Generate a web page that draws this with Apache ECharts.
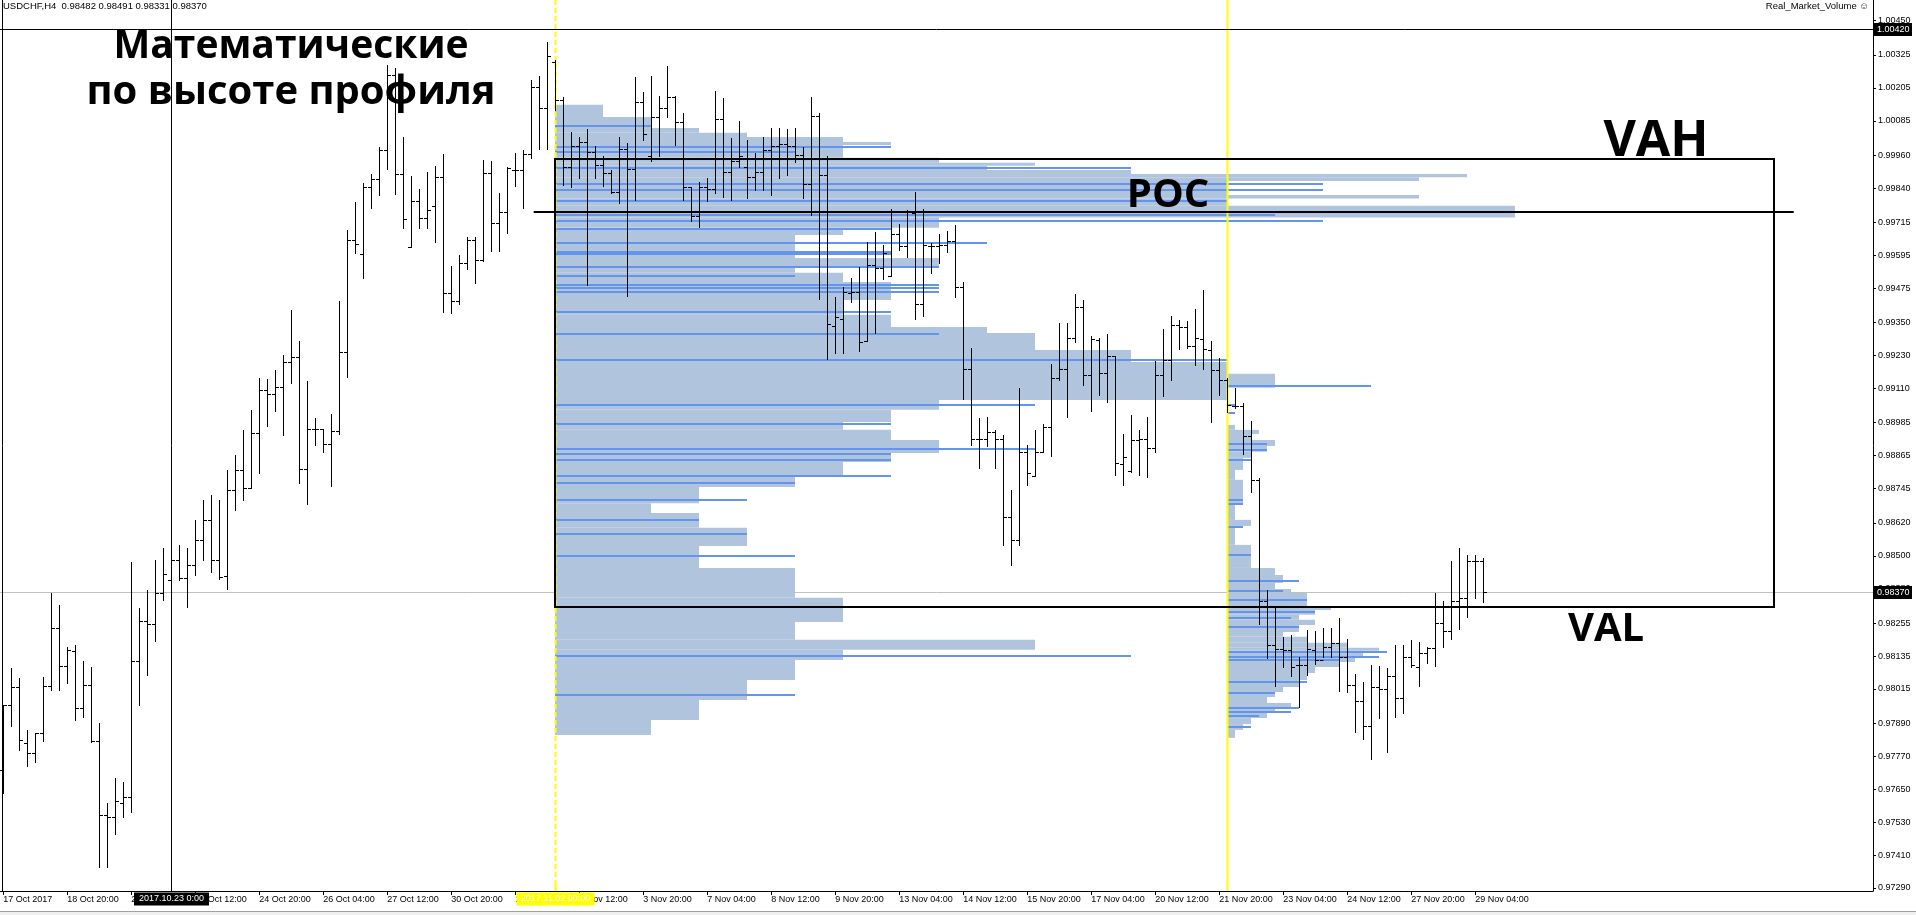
<!DOCTYPE html>
<html><head><meta charset="utf-8">
<script src="https://cdn.jsdelivr.net/npm/echarts@6/dist/echarts.min.js"></script>
<style>html,body{margin:0;padding:0;background:#fff;overflow:hidden}#c{width:1916px;height:915px}</style>
</head><body><div id="c"></div>
<script>
// ---------- axis ticks ----------
const xTickBars = [0,8,16,24,32,40,48,56,64,72,80,88,96,104,112,120,128,136,144,152,160,168,176,184];
const xTickLabels = ['17 Oct 2017','18 Oct 20:00','20 Oct 04:00','23 Oct 12:00','24 Oct 20:00','26 Oct 04:00','27 Oct 12:00','30 Oct 20:00','1 Nov 04:00','2 Nov 12:00','3 Nov 20:00','7 Nov 04:00','8 Nov 12:00','9 Nov 20:00','13 Nov 04:00','14 Nov 12:00','15 Nov 20:00','17 Nov 04:00','20 Nov 12:00','21 Nov 20:00','23 Nov 04:00','24 Nov 12:00','27 Nov 20:00','29 Nov 04:00'];
const yTickValues = [1.00450,1.00325,1.00205,1.00085,0.99960,0.99840,0.99715,0.99595,0.99475,0.99350,0.99230,0.99110,0.98985,0.98865,0.98745,0.98620,0.98500,0.98380,0.98255,0.98135,0.98015,0.97890,0.97770,0.97650,0.97530,0.97410,0.97290];

// ---------- H4 bars (index 0 = 17 Oct 12:00) ----------
const barOpen = [0.97720,0.97957,0.98023,0.97819,0.97781,0.97854,0.98027,0.98236,0.98100,0.98153,
0.97945,0.98029,0.97827,0.97556,0.97550,0.97599,0.97623,0.98117,0.98263,0.98251,
0.98363,0.98412,0.98485,0.98418,0.98467,0.98558,0.98630,0.98485,0.98427,0.98740,
0.98813,0.98747,0.98947,0.99103,0.99090,0.99114,0.99206,0.99226,0.98815,0.98961,
0.98961,0.98906,0.98955,0.99242,0.99651,0.99600,0.99845,0.99872,0.99979,1.00252,
0.99891,0.99625,0.99794,0.99731,0.99773,0.99881,0.99457,0.99430,0.99567,0.99651,
0.99578,0.99894,0.99712,0.99752,0.99906,0.99906,0.99964,1.00209,1.00131,1.00298,
1.00161,0.99918,0.99994,1.00007,0.99971,0.99924,0.99894,0.99825,0.99983,0.99909,
1.00154,0.99955,1.00100,1.00131,1.00171,1.00080,0.99843,0.99739,0.99845,0.99836,
1.00091,0.99898,0.99940,0.99918,0.99881,0.99899,0.99979,0.99994,1.00001,0.99994,
0.99961,0.99855,1.00103,0.99888,0.99339,0.99363,0.99456,0.99462,0.99282,0.99560,
0.99548,0.99519,0.99672,0.99629,0.99748,0.99418,0.99627,0.99627,0.99633,0.99648,
0.99479,0.99180,0.98925,0.98925,0.98953,0.98925,0.98641,0.98558,0.98879,0.98792,
0.98877,0.98971,0.99147,0.99181,0.99293,0.99407,0.99159,0.99287,0.99166,0.99229,
0.98836,0.98810,0.98923,0.98926,0.98893,0.99159,0.99214,0.99341,0.99333,0.99263,
0.99289,0.99250,0.99177,0.99141,0.99046,0.99046,0.98937,0.98778,0.98336,0.98176,
0.98161,0.98158,0.98101,0.98101,0.98156,0.98121,0.98168,0.98184,0.98133,0.98030,
0.97971,0.97881,0.98023,0.98014,0.98062,0.97981,0.98133,0.98096,0.98145,0.98163,
0.98257,0.98226,0.98336,0.98346,0.98481,0.98482];
const barHigh = [0.97957,0.98090,0.98054,0.97866,0.97856,0.98057,0.98363,0.98321,0.98169,0.98175,
0.98118,0.98096,0.97890,0.97599,0.97690,0.97675,0.98477,0.98309,0.98375,0.98485,
0.98528,0.98558,0.98540,0.98528,0.98630,0.98704,0.98722,0.98704,0.98813,0.98868,
0.98959,0.99032,0.99148,0.99144,0.99177,0.99232,0.99396,0.99283,0.99136,0.99004,
0.98961,0.99017,0.99428,0.99688,0.99789,0.99860,0.99891,0.99988,1.00288,1.00277,
1.00025,0.99884,0.99837,0.99898,0.99921,0.99965,0.99557,0.99597,0.99662,0.99662,
0.99942,0.99939,0.99821,0.99918,0.99967,0.99979,1.00234,1.00248,1.00371,1.00307,
1.00173,1.00043,1.00027,1.00055,0.99994,0.99957,0.99906,1.00025,1.00003,1.00244,
1.00189,1.00249,1.00176,1.00285,1.00176,1.00113,0.99845,0.99861,0.99876,1.00194,
1.00167,1.00024,1.00084,1.00015,0.99969,1.00027,1.00060,1.00060,1.00055,1.00060,
0.99991,1.00173,1.00115,0.99955,0.99442,0.99479,0.99511,0.99553,0.99642,0.99681,
0.99633,0.99763,0.99709,0.99760,0.99826,0.99763,0.99641,0.99673,0.99684,0.99706,
0.99499,0.99259,0.99002,0.99006,0.98957,0.98940,0.98741,0.99111,0.98905,0.98959,
0.98980,0.99199,0.99350,0.99350,0.99455,0.99433,0.99302,0.99293,0.99309,0.99229,
0.98945,0.99014,0.98959,0.99007,0.99211,0.99326,0.99374,0.99359,0.99356,0.99399,
0.99469,0.99284,0.99221,0.99148,0.99111,0.99057,0.98990,0.98784,0.98375,0.98310,
0.98203,0.98212,0.98133,0.98230,0.98228,0.98236,0.98236,0.98275,0.98196,0.98070,
0.98040,0.98104,0.98098,0.98093,0.98175,0.98175,0.98192,0.98186,0.98168,0.98363,
0.98335,0.98481,0.98528,0.98503,0.98503,0.98491];
const barLow = [0.97636,0.97881,0.97793,0.97735,0.97748,0.97827,0.98011,0.98011,0.98038,0.97902,
0.97914,0.97823,0.97368,0.97368,0.97487,0.97547,0.97568,0.97957,0.98066,0.98190,
0.98339,0.98339,0.98412,0.98313,0.98430,0.98485,0.98441,0.98415,0.98379,0.98668,
0.98704,0.98747,0.98801,0.98972,0.99029,0.98941,0.99131,0.98766,0.98688,0.98903,
0.98879,0.98756,0.98943,0.99153,0.99605,0.99514,0.99769,0.99813,0.99911,0.99818,
0.99696,0.99625,0.99696,0.99696,0.99643,0.99390,0.99384,0.99417,0.99546,0.99494,
0.99575,0.99612,0.99612,0.99676,0.99849,0.99769,0.99949,0.99983,0.99983,1.00125,
0.99851,0.99845,0.99876,0.99487,0.99876,0.99849,0.99821,0.99785,0.99448,0.99797,
1.00016,0.99937,0.99958,1.00098,0.99995,0.99797,0.99721,0.99697,0.99793,0.99823,
0.99808,0.99797,0.99916,0.99803,0.99833,0.99833,0.99815,0.99876,0.99888,0.99936,
0.99803,0.99742,0.99435,0.99216,0.99238,0.99238,0.99424,0.99247,0.99282,0.99313,
0.99508,0.99519,0.99614,0.99590,0.99362,0.99375,0.99532,0.99568,0.99608,0.99444,
0.99070,0.98904,0.98820,0.98899,0.98820,0.98540,0.98467,0.98540,0.98759,0.98790,
0.98877,0.98865,0.99141,0.99007,0.99278,0.99123,0.99026,0.99087,0.99059,0.98794,
0.98757,0.98807,0.98794,0.98788,0.98880,0.99081,0.99139,0.99253,0.99259,0.99194,
0.99181,0.98988,0.99087,0.99024,0.99039,0.98872,0.98732,0.98250,0.98128,0.98025,
0.98095,0.98062,0.97951,0.98066,0.98105,0.98133,0.98131,0.98009,0.98003,0.97859,
0.97833,0.97760,0.97909,0.97785,0.97912,0.97929,0.98095,0.98026,0.98108,0.98100,
0.98167,0.98197,0.98233,0.98279,0.98348,0.98331];
const barClose = [0.97957,0.98023,0.97829,0.97783,0.97854,0.98027,0.98236,0.98100,0.98157,0.97945,
0.98029,0.97827,0.97556,0.97550,0.97607,0.97623,0.98117,0.98263,0.98251,0.98363,
0.98434,0.98485,0.98418,0.98467,0.98558,0.98630,0.98485,0.98424,0.98740,0.98813,
0.98747,0.98947,0.99103,0.99090,0.99114,0.99206,0.99226,0.98815,0.98961,0.98961,
0.98906,0.98955,0.99242,0.99651,0.99637,0.99845,0.99872,0.99979,1.00252,0.99891,
0.99727,0.99794,0.99731,0.99760,0.99881,0.99457,0.99430,0.99567,0.99651,0.99578,
0.99894,0.99712,0.99752,0.99914,0.99906,0.99964,1.00209,1.00131,1.00321,1.00161,
0.99918,0.99994,1.00007,0.99971,0.99924,0.99894,0.99825,0.99983,0.99909,1.00154,
1.00037,1.00100,1.00131,1.00171,1.00080,0.99843,0.99739,0.99845,0.99836,1.00091,
0.99898,0.99940,0.99955,0.99881,0.99899,0.99979,0.99994,1.00001,0.99994,0.99961,
0.99855,1.00103,0.99888,0.99344,0.99371,0.99462,0.99462,0.99278,0.99560,0.99548,
0.99603,0.99672,0.99629,0.99753,0.99418,0.99633,0.99627,0.99633,0.99648,0.99479,
0.99180,0.98925,0.98925,0.98953,0.98925,0.98641,0.98558,0.98879,0.98802,0.98877,
0.98971,0.99147,0.99181,0.99293,0.99407,0.99159,0.99290,0.99166,0.99229,0.98839,
0.98861,0.98923,0.98926,0.98893,0.99159,0.99214,0.99341,0.99335,0.99263,0.99293,
0.99253,0.99177,0.99141,0.99050,0.99046,0.98937,0.98778,0.98336,0.98176,0.98161,
0.98158,0.98096,0.98101,0.98161,0.98121,0.98168,0.98184,0.98133,0.98030,0.97971,
0.97881,0.98023,0.98014,0.98062,0.97981,0.98133,0.98102,0.98145,0.98163,0.98257,
0.98226,0.98336,0.98346,0.98481,0.98483,0.98370];

// ---------- volume profile 1 (starts 2 Nov 00:00, unit = 6 bars) ----------
const profile1Start = 69, profile1Unit = 6;
const profile1Runs = [ // [top price, bottom price, units]
[1.00143,1.00099,1],[1.00099,1.00059,2],[1.00059,1.00041,3],[1.00041,1.00026,4],[1.00026,1.00008,6],
[1.00008,0.99997,7],[0.99997,0.99950,6],[0.99950,0.99932,8],[0.99932,0.99921,10],[0.99921,0.99906,9],
[0.99906,0.99891,12],[0.99891,0.99879,19],[0.99879,0.99866,18],[0.99866,0.99815,14],[0.99815,0.99802,18],
[0.99802,0.99775,14],[0.99775,0.99733,20],
[0.99733,0.99695,8],[0.99695,0.99669,6],[0.99669,0.99585,5],[0.99585,0.99556,8],[0.99556,0.99531,5],
[0.99531,0.99498,6],[0.99498,0.99432,7],[0.99432,0.99378,6],[0.99378,0.99334,7],[0.99334,0.99312,9],
[0.99312,0.99250,10],[0.99250,0.99206,12],[0.99206,0.99068,14],[0.99068,0.99032,8],[0.99032,0.98988,7],
[0.98988,0.98959,6],[0.98959,0.98922,7],
[0.98922,0.98875,8],[0.98875,0.98842,7],[0.98842,0.98787,6],[0.98787,0.98751,5],[0.98751,0.98692,3],
[0.98692,0.98656,2],[0.98656,0.98602,3],[0.98602,0.98536,4],[0.98536,0.98456,3],[0.98456,0.98347,5],
[0.98347,0.98259,6],[0.98259,0.98194,5],[0.98194,0.98158,10],[0.98158,0.98121,6],[0.98121,0.98048,5],
[0.98048,0.97975,4],[0.97975,0.97902,3],[0.97902,0.97847,2]];
const profile1Dark = [ // [price, units]
[1.00066,2],[0.99991,7],[0.99970,5],[0.99912,12],[0.99855,16],[0.99833,16],[0.99791,14],[0.99742,15],
[0.99720,16],[0.99690,7],[0.99639,9],
[0.99607,7],[0.99600,7],[0.99554,8],[0.99520,5],[0.99487,8],[0.99476,8],[0.99463,8],[0.99390,7],
[0.99308,8],[0.99214,14],[0.99050,10],[0.98981,7],[0.98888,10],[0.98870,7],[0.98849,7],[0.98791,7],
[0.98765,5],[0.98704,4],[0.98631,3],[0.98580,4],[0.98500,5],[0.98135,12],[0.97993,5]];

// ---------- volume profile 2 (starts 22 Nov 00:00, unit = 1 bar) ----------
const profile2Start = 153, profile2Unit = 1;
const profile2Runs = [
[0.99163,0.99112,6],[0.98977,0.98959,1],[0.98959,0.98944,4],[0.98944,0.98922,3],[0.98922,0.98900,6],
[0.98900,0.98879,5],[0.98879,0.98857,3],[0.98857,0.98813,2],[0.98813,0.98777,1],[0.98777,0.98686,2],
[0.98686,0.98631,1],[0.98631,0.98609,3],[0.98609,0.98540,1],[0.98540,0.98456,3],[0.98456,0.98430,6],
[0.98430,0.98401,7],[0.98401,0.98379,6],[0.98379,0.98365,8],[0.98365,0.98314,10],[0.98314,0.98303,13],
[0.98303,0.98285,11],[0.98285,0.98267,9],[0.98267,0.98248,11],[0.98248,0.98223,9],[0.98223,0.98205,7],
[0.98205,0.98183,10],[0.98183,0.98165,15],[0.98165,0.98154,19],[0.98154,0.98135,17],[0.98135,0.98113,16],
[0.98113,0.98095,14],[0.98095,0.98073,11],[0.98073,0.98048,10],[0.98048,0.98022,9],[0.98022,0.98004,7],
[0.98004,0.97986,6],[0.97986,0.97964,5],[0.97964,0.97946,8],[0.97946,0.97928,6],[0.97928,0.97909,5],
[0.97909,0.97887,3],[0.97887,0.97866,2],[0.97866,0.97837,1]];
const profile2Dark = [
[0.99119,18],[0.99050,1],[0.99020,1],[0.98908,5],[0.98886,5],[0.98849,3],[0.98704,2],[0.98689,2],
[0.98605,2],[0.98503,3],[0.98409,9],[0.98372,7],[0.98339,10],[0.98297,11],[0.98274,8],[0.98241,9],
[0.98150,20],[0.98132,19],[0.98121,14],[0.98040,10],[0.98000,6],[0.97946,9],[0.97932,8],[0.97917,4],[0.97877,3]];

// ---------- levels ----------
const valueArea = [[69, 221.3, 0.99945, 0.98312]];   // [from bar, to bar, VAH, VAL]
const pocLine = [[66.3, 223.8, 0.99751]];            // [from bar, to bar, POC]
const crosshair = {bar: 21, price: 1.00420, label: '2017.10.23 0:00'};
const bidPrice = 0.98370;
const sessionLines = [{bar: 69, label: '2017.11.02 00:00', dashed: true}, {bar: 153, label: '', dashed: false}];

const LIGHT = '#B0C4DE', DARK = '#6495ED';
const AXFONT = 'Liberation Sans, Arial, sans-serif';
const BIGFONT = '"Open Sans", "Noto Sans", sans-serif';

const chart = echarts.init(document.getElementById('c'), null, {renderer: 'canvas'});

function runRenderer(start, unit, color) {
  return function (params, api) {
    const a = api.coord([start, api.value(0)]);
    const b = api.coord([start + api.value(2) * unit, api.value(1)]);
    const x0 = Math.round(a[0]);
    return {type: 'rect', shape: {x: x0, y: a[1], width: Math.round(b[0]) - x0, height: b[1] - a[1]}, style: {fill: color}};
  };
}
function darkRenderer(start, unit, color) {
  return function (params, api) {
    const a = api.coord([start, api.value(0)]);
    const b = api.coord([start + api.value(1) * unit, api.value(0)]);
    const x0 = Math.round(a[0]);
    return {type: 'rect', shape: {x: x0, y: Math.round(a[1]) - 1, width: Math.round(b[0]) - x0, height: 2}, style: {fill: color}};
  };
}
function ohlcRenderer(params, api) {
  const i = api.value(0);
  const o = api.coord([i, api.value(1)]), h = api.coord([i, api.value(2)]);
  const l = api.coord([i, api.value(3)]), c = api.coord([i, api.value(4)]);
  const x = Math.round(h[0]) + 0.5;
  const st = {stroke: '#000', lineWidth: 1};
  const yo = Math.round(o[1]) + 0.5, yc = Math.round(c[1]) + 0.5;
  return {type: 'group', children: [
    {type: 'line', shape: {x1: x, y1: Math.round(h[1]), x2: x, y2: Math.round(l[1]) + 1}, style: st},
    {type: 'line', shape: {x1: x - 3.5, y1: yo, x2: x, y2: yo}, style: st},
    {type: 'line', shape: {x1: x, y1: yc, x2: x + 3.5, y2: yc}, style: st}
  ]};
}

const ohlcData = barOpen.map((o, i) => [i, o, barHigh[i], barLow[i], barClose[i]]);

function boxText(x, y, text, bg, fg, w, align) {
  return [
    {type: 'rect', shape: {x: align === 'center' ? x - w / 2 : x, y: y - 6.5, width: w, height: 13}, style: {fill: bg}},
    {type: 'text', x: align === 'center' ? x : x + 3, y: y, style: {text: text, fill: fg, font: '9px ' + AXFONT, align: align === 'center' ? 'center' : 'left', verticalAlign: 'middle'}}
  ];
}

const option = {
  animation: false,
  backgroundColor: '#fff',
  grid: {left: 0, right: 43, top: 0, bottom: 24, show: false},
  xAxis: {
    type: 'value', min: -0.4125, max: 233.71,
    axisLine: {show: true, onZero: false, lineStyle: {color: '#000', width: 1}},
    axisTick: {show: true, customValues: xTickBars, length: 4, lineStyle: {color: '#000'}},
    axisLabel: {customValues: xTickBars, formatter: v => xTickLabels[xTickBars.indexOf(Math.round(v))] || '',
      align: 'left', margin: 4, fontSize: 9, fontFamily: AXFONT, color: '#000'},
    splitLine: {show: false}
  },
  yAxis: {
    type: 'value', position: 'right', min: 0.97279, max: 1.00525, scale: true,
    axisLine: {show: true, onZero: false, lineStyle: {color: '#000', width: 1}},
    axisTick: {show: true, customValues: yTickValues, length: 3, lineStyle: {color: '#000'}},
    axisLabel: {customValues: yTickValues, formatter: v => v.toFixed(5), margin: 5, fontSize: 9, fontFamily: AXFONT, color: '#000', align: 'left'},
    splitLine: {show: false}
  },
  series: [
    {type: 'custom', silent: true, z: 1, data: [[0, bidPrice]], renderItem: (params, api) => {
      const cs = params.coordSys; const y = Math.round(api.coord([0, api.value(1)])[1]) + 0.5;
      return {type: 'line', shape: {x1: cs.x, y1: y, x2: cs.x + cs.width, y2: y}, style: {stroke: '#C0C0C0', lineWidth: 1}};
    }},
    {type: 'custom', silent: true, z: 2, clip: true, data: profile1Runs, renderItem: runRenderer(profile1Start, profile1Unit, LIGHT)},
    {type: 'custom', silent: true, z: 2, clip: true, data: profile1Dark, renderItem: darkRenderer(profile1Start, profile1Unit, DARK)},
    {type: 'custom', silent: true, z: 2, clip: true, data: profile2Runs, renderItem: runRenderer(profile2Start, profile2Unit, LIGHT)},
    {type: 'custom', silent: true, z: 2, clip: true, data: profile2Dark, renderItem: darkRenderer(profile2Start, profile2Unit, DARK)},
    {type: 'custom', silent: true, z: 3, data: sessionLines.map(s => [s.bar, s.dashed ? 1 : 0]), renderItem: (params, api) => {
      const cs = params.coordSys; const x = Math.round(api.coord([api.value(0), 1])[0]) + 0.5;
      const dashed = api.value(1) === 1;
      return {type: 'line', shape: {x1: x, y1: cs.y, x2: x, y2: cs.y + cs.height},
        style: {stroke: '#FFFF00', lineWidth: 2, lineDash: dashed ? [5, 3] : null}};
    }},
    {type: 'custom', silent: true, z: 4, clip: true, data: ohlcData, renderItem: ohlcRenderer},
    {type: 'custom', silent: true, z: 5, data: valueArea, renderItem: (params, api) => {
      const a = api.coord([api.value(0), api.value(2)]), b = api.coord([api.value(1), api.value(3)]);
      const x0 = Math.round(a[0]), y0 = Math.round(a[1]), x1 = Math.round(b[0]), y1 = Math.round(b[1]);
      return {type: 'rect', shape: {x: x0, y: y0, width: x1 - x0, height: y1 - y0}, style: {fill: null, stroke: '#000', lineWidth: 2}};
    }},
    {type: 'custom', silent: true, z: 5, data: pocLine, renderItem: (params, api) => {
      const a = api.coord([api.value(0), api.value(2)]), b = api.coord([api.value(1), api.value(2)]);
      const y = Math.round(a[1]);
      return {type: 'line', shape: {x1: a[0], y1: y, x2: b[0], y2: y}, style: {stroke: '#000', lineWidth: 2}};
    }},
    {type: 'custom', silent: true, z: 10, clip: false, data: [[crosshair.bar, crosshair.price]], renderItem: (params, api) => {
      const cs = params.coordSys; const p = api.coord([api.value(0), api.value(1)]);
      const x = Math.round(p[0]) + 0.5, y = Math.round(p[1]) + 0.5;
      const right = cs.x + cs.width, bottom = cs.y + cs.height;
      const ch = [
        {type: 'line', shape: {x1: x, y1: cs.y, x2: x, y2: bottom}, style: {stroke: '#000', lineWidth: 1}},
        {type: 'line', shape: {x1: cs.x, y1: y, x2: right, y2: y}, style: {stroke: '#000', lineWidth: 1}}
      ].concat(boxText(right + 1, y, api.value(1).toFixed(5), '#000', '#fff', 38, 'left'))
       .concat(boxText(x, bottom + 8, crosshair.label, '#000', '#fff', 75, 'center'));
      const yb = Math.round(api.coord([0, bidPrice])[1]) + 0.5;
      ch.push.apply(ch, boxText(right + 1, yb, bidPrice.toFixed(5), '#000', '#fff', 38, 'left'));
      const xs = Math.round(api.coord([sessionLines[0].bar, bidPrice])[0]) + 0.5;
      ch.push.apply(ch, boxText(xs, bottom + 8, sessionLines[0].label, '#FFFF00', '#FFFFFF', 78, 'center'));
      ch.push({type: 'line', shape: {x1: xs, y1: bottom - 6, x2: xs, y2: bottom}, style: {stroke: '#FFFF00', lineWidth: 2}});
      return {type: 'group', children: ch};
    }}
  ],
  graphic: [
    {type: 'line', z: 50, shape: {x1: 2.5, y1: 0, x2: 2.5, y2: 891}, style: {stroke: '#000', lineWidth: 1}},
    {type: 'rect', z: 50, shape: {x: 0, y: 911, width: 1916, height: 4}, style: {fill: '#F0F0F0'}},
    {type: 'line', z: 50, shape: {x1: 0, y1: 911.5, x2: 1916, y2: 911.5}, style: {stroke: '#A0A0A0', lineWidth: 1}},
    {type: 'text', z: 50, x: 3, y: 6, style: {text: 'USDCHF,H4  0.98482 0.98491 0.98331 0.98370', font: '9.5px ' + AXFONT, fill: '#000', align: 'left', verticalAlign: 'middle'}},
    {type: 'text', z: 50, x: 1869, y: 6, style: {text: 'Real_Market_Volume \u263A', font: '9.5px ' + AXFONT, fill: '#000', align: 'right', verticalAlign: 'middle'}},
    {type: 'text', z: 50, x: 291, y: 47, style: {text: 'Математические', font: 'bold 39px ' + BIGFONT, fill: '#000', align: 'center', verticalAlign: 'middle'}},
    {type: 'text', z: 50, x: 291, y: 93, style: {text: 'по высоте профиля', font: 'bold 40px ' + BIGFONT, fill: '#000', align: 'center', verticalAlign: 'middle'}},
    {type: 'text', z: 50, x: 1656, y: 142, style: {text: 'VAH', font: 'bold 50px ' + BIGFONT, fill: '#000', align: 'center', verticalAlign: 'middle'}},
    {type: 'text', z: 50, x: 1168, y: 196, style: {text: 'POC', font: 'bold 40px ' + BIGFONT, fill: '#000', align: 'center', verticalAlign: 'middle'}},
    {type: 'text', z: 50, x: 1606, y: 630, style: {text: 'VAL', font: 'bold 40px ' + BIGFONT, fill: '#000', align: 'center', verticalAlign: 'middle'}}
  ]
};
chart.setOption(option);
</script></body></html>
